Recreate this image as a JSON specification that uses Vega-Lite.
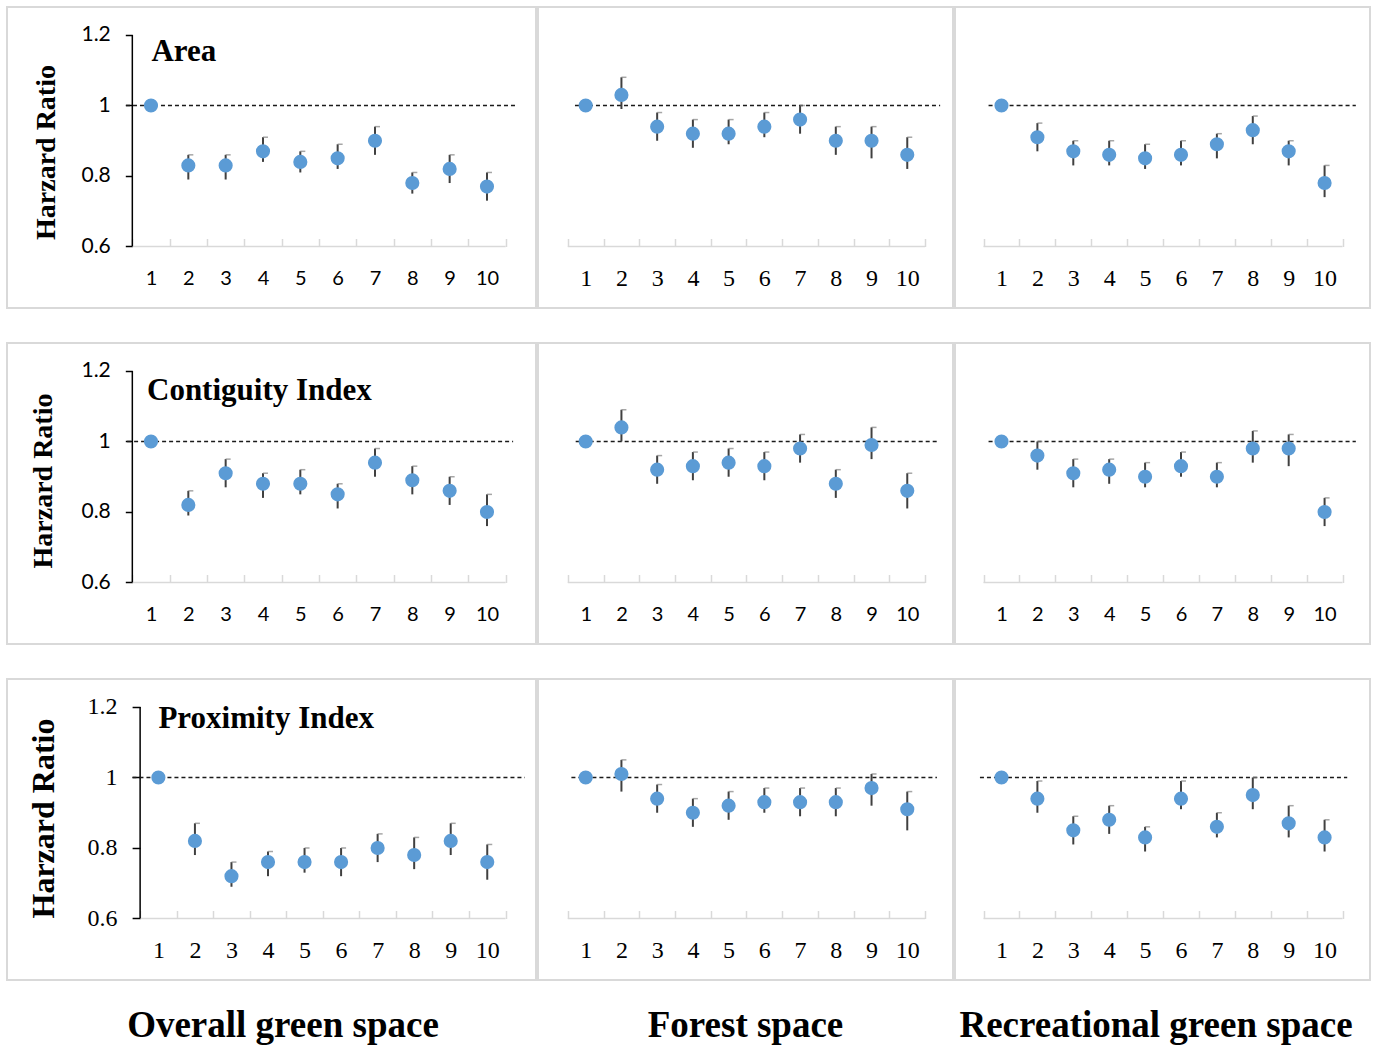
{
  "$schema": "https://vega.github.io/schema/vega-lite/v6.json",
  "background": "white",
  "padding": {"left": 6, "top": 6, "right": 0, "bottom": 0},
  "config": {
    "view": {"stroke": "#d9d9d9", "strokeWidth": 2},
    "axis": {"labelColor": "#000000", "domain": false, "grid": false}
  },
  "datasets": {
    "area_overall": [
      {"k":1,"hr":1,"lo":1,"hi":1},{"k":2,"hr":0.83,"lo":0.79,"hi":0.86},{"k":3,"hr":0.83,"lo":0.79,"hi":0.86},{"k":4,"hr":0.87,"lo":0.84,"hi":0.91},{"k":5,"hr":0.84,"lo":0.81,"hi":0.87},{"k":6,"hr":0.85,"lo":0.82,"hi":0.89},{"k":7,"hr":0.90,"lo":0.86,"hi":0.94},{"k":8,"hr":0.78,"lo":0.75,"hi":0.81},{"k":9,"hr":0.82,"lo":0.78,"hi":0.86},{"k":10,"hr":0.77,"lo":0.73,"hi":0.81}
    ],
    "area_forest": [
      {"k":1,"hr":1,"lo":1,"hi":1},{"k":2,"hr":1.03,"lo":0.99,"hi":1.08},{"k":3,"hr":0.94,"lo":0.90,"hi":0.98},{"k":4,"hr":0.92,"lo":0.88,"hi":0.96},{"k":5,"hr":0.92,"lo":0.89,"hi":0.96},{"k":6,"hr":0.94,"lo":0.91,"hi":0.98},{"k":7,"hr":0.96,"lo":0.92,"hi":1.00},{"k":8,"hr":0.90,"lo":0.86,"hi":0.94},{"k":9,"hr":0.90,"lo":0.85,"hi":0.94},{"k":10,"hr":0.86,"lo":0.82,"hi":0.91}
    ],
    "area_rec": [
      {"k":1,"hr":1,"lo":1,"hi":1},{"k":2,"hr":0.91,"lo":0.87,"hi":0.95},{"k":3,"hr":0.87,"lo":0.83,"hi":0.90},{"k":4,"hr":0.86,"lo":0.83,"hi":0.90},{"k":5,"hr":0.85,"lo":0.82,"hi":0.89},{"k":6,"hr":0.86,"lo":0.83,"hi":0.90},{"k":7,"hr":0.89,"lo":0.85,"hi":0.92},{"k":8,"hr":0.93,"lo":0.89,"hi":0.97},{"k":9,"hr":0.87,"lo":0.83,"hi":0.90},{"k":10,"hr":0.78,"lo":0.74,"hi":0.83}
    ],
    "cont_overall": [
      {"k":1,"hr":1,"lo":1,"hi":1},{"k":2,"hr":0.82,"lo":0.79,"hi":0.86},{"k":3,"hr":0.91,"lo":0.87,"hi":0.95},{"k":4,"hr":0.88,"lo":0.84,"hi":0.91},{"k":5,"hr":0.88,"lo":0.85,"hi":0.92},{"k":6,"hr":0.85,"lo":0.81,"hi":0.88},{"k":7,"hr":0.94,"lo":0.90,"hi":0.98},{"k":8,"hr":0.89,"lo":0.85,"hi":0.93},{"k":9,"hr":0.86,"lo":0.82,"hi":0.90},{"k":10,"hr":0.80,"lo":0.76,"hi":0.85}
    ],
    "cont_forest": [
      {"k":1,"hr":1,"lo":1,"hi":1},{"k":2,"hr":1.04,"lo":1.00,"hi":1.09},{"k":3,"hr":0.92,"lo":0.88,"hi":0.96},{"k":4,"hr":0.93,"lo":0.89,"hi":0.97},{"k":5,"hr":0.94,"lo":0.90,"hi":0.98},{"k":6,"hr":0.93,"lo":0.89,"hi":0.97},{"k":7,"hr":0.98,"lo":0.94,"hi":1.02},{"k":8,"hr":0.88,"lo":0.84,"hi":0.92},{"k":9,"hr":0.99,"lo":0.95,"hi":1.04},{"k":10,"hr":0.86,"lo":0.81,"hi":0.91}
    ],
    "cont_rec": [
      {"k":1,"hr":1,"lo":1,"hi":1},{"k":2,"hr":0.96,"lo":0.92,"hi":1.00},{"k":3,"hr":0.91,"lo":0.87,"hi":0.95},{"k":4,"hr":0.92,"lo":0.88,"hi":0.95},{"k":5,"hr":0.90,"lo":0.87,"hi":0.94},{"k":6,"hr":0.93,"lo":0.90,"hi":0.97},{"k":7,"hr":0.90,"lo":0.87,"hi":0.94},{"k":8,"hr":0.98,"lo":0.94,"hi":1.03},{"k":9,"hr":0.98,"lo":0.93,"hi":1.02},{"k":10,"hr":0.80,"lo":0.76,"hi":0.84}
    ],
    "prox_overall": [
      {"k":1,"hr":1,"lo":1,"hi":1},{"k":2,"hr":0.82,"lo":0.78,"hi":0.87},{"k":3,"hr":0.72,"lo":0.69,"hi":0.76},{"k":4,"hr":0.76,"lo":0.72,"hi":0.79},{"k":5,"hr":0.76,"lo":0.73,"hi":0.80},{"k":6,"hr":0.76,"lo":0.72,"hi":0.80},{"k":7,"hr":0.80,"lo":0.76,"hi":0.84},{"k":8,"hr":0.78,"lo":0.74,"hi":0.83},{"k":9,"hr":0.82,"lo":0.78,"hi":0.87},{"k":10,"hr":0.76,"lo":0.71,"hi":0.81}
    ],
    "prox_forest": [
      {"k":1,"hr":1,"lo":1,"hi":1},{"k":2,"hr":1.01,"lo":0.96,"hi":1.05},{"k":3,"hr":0.94,"lo":0.90,"hi":0.98},{"k":4,"hr":0.90,"lo":0.86,"hi":0.94},{"k":5,"hr":0.92,"lo":0.88,"hi":0.96},{"k":6,"hr":0.93,"lo":0.90,"hi":0.97},{"k":7,"hr":0.93,"lo":0.89,"hi":0.97},{"k":8,"hr":0.93,"lo":0.89,"hi":0.97},{"k":9,"hr":0.97,"lo":0.92,"hi":1.01},{"k":10,"hr":0.91,"lo":0.85,"hi":0.96}
    ],
    "prox_rec": [
      {"k":1,"hr":1,"lo":1,"hi":1},{"k":2,"hr":0.94,"lo":0.90,"hi":0.99},{"k":3,"hr":0.85,"lo":0.81,"hi":0.89},{"k":4,"hr":0.88,"lo":0.84,"hi":0.92},{"k":5,"hr":0.83,"lo":0.79,"hi":0.86},{"k":6,"hr":0.94,"lo":0.91,"hi":0.99},{"k":7,"hr":0.86,"lo":0.83,"hi":0.90},{"k":8,"hr":0.95,"lo":0.91,"hi":1.00},{"k":9,"hr":0.87,"lo":0.83,"hi":0.92},{"k":10,"hr":0.83,"lo":0.79,"hi":0.88}
    ]
  },
  "spacing": 33,
  "vconcat": [
    {
      "spacing": 0,
      "hconcat": [
        {
          "width": 529, "height": 301,
          "data": {"name": "area_overall"},
          "layer": [
            {"data": {"values": [{}]}, "mark": {"type": "rule", "color": "#d9d9d9", "strokeWidth": 1.5},
             "encoding": {"x": {"datum": 0.5}, "x2": {"datum": 10.5}, "y": {"datum": 0.6}}},
            {"data": {"values": [{}]}, "mark": {"type": "rule", "color": "#000000", "strokeWidth": 1.5},
             "encoding": {"x": {"datum": 0.5}, "y": {"datum": 0.6}, "y2": {"datum": 1.2}}},
            {"data": {"values": [{}]}, "mark": {"type": "rule", "color": "#1a1a1a", "strokeWidth": 1.3, "strokeDash": [4, 3]},
             "encoding": {"x": {"datum": 0.33}, "x2": {"datum": 10.75}, "y": {"datum": 1}}},
            {"mark": {"type": "rule", "color": "#404040", "strokeWidth": 2},
             "encoding": {"x": {"field": "k", "type": "quantitative"}, "y": {"field": "lo", "type": "quantitative"}, "y2": {"field": "hi"}}},
            {"mark": {"type": "tick", "orient": "horizontal", "color": "#808080", "size": 5, "thickness": 1.5, "xOffset": 2.5},
             "encoding": {"x": {"field": "k", "type": "quantitative"}, "y": {"field": "hi", "type": "quantitative"}}},
            {"mark": {"type": "circle", "color": "#5B9BD5", "size": 200, "opacity": 1},
             "encoding": {
               "x": {"field": "k", "type": "quantitative", "scale": {"domain": [-2.857, 11.313], "nice": false, "zero": false},
                     "axis": {"values": [1,2,3,4,5,6,7,8,9,10,11], "labelExpr": "datum.value > 10 ? '' : datum.label", "format": "d", "tickOffset": -18.67, "labelOffset": 18.67, "tickSize": -8, "tickColor": "#d9d9d9", "tickWidth": 1.5, "domain": false, "grid": false, "offset": -61.5, "labelFont": "Lato", "labelFontSize": 20, "labelColor": "#000000", "labelPadding": 46, "labelBaseline": "alphabetic", "labelAlign": "center", "labelOverlap": false, "labelFlush": false, "title": null}},
               "y": {"field": "hr", "type": "quantitative", "scale": {"domain": [0.4255, 1.2794], "nice": false, "zero": false},
                     "axis": {"values": [0.6, 0.8, 1, 1.2], "format": "~g", "domain": false, "grid": false, "offset": -125.3, "tickSize": 7, "tickColor": "#000000", "tickWidth": 1.5, "labelPadding": 15, "labelFont": "Lato", "labelFontSize": 21, "labelColor": "#000000", "labelOverlap": false, "labelFlush": false, "title": "Harzard Ratio", "titleFont": "Liberation Serif", "titleFontSize": 28, "titleFontWeight": "bold", "titleColor": "#000000", "titleAngle": -90, "titleBaseline": "alphabetic", "titleAlign": "center", "titleX": -78.3, "titleY": 145}}
             }},
            {"data": {"values": [{"t": "Area"}]}, "mark": {"type": "text", "font": "Liberation Serif", "fontSize": 31, "fontWeight": "bold", "align": "left", "baseline": "alphabetic", "color": "#000000"},
             "encoding": {"x": {"datum": 1.013}, "y": {"datum": 1.126}, "text": {"field": "t"}}}
          ]
        },
        {
          "width": 415, "height": 301,
          "data": {"name": "area_forest"},
          "layer": [
            {"data": {"values": [{}]}, "mark": {"type": "rule", "color": "#d9d9d9", "strokeWidth": 1.5},
             "encoding": {"x": {"datum": 0.5}, "x2": {"datum": 10.5}, "y": {"datum": 0.6, "axis": null}}},
            {"data": {"values": [{}]}, "mark": {"type": "rule", "color": "#1a1a1a", "strokeWidth": 1.3, "strokeDash": [4, 3]},
             "encoding": {"x": {"datum": 0.70}, "x2": {"datum": 10.92}, "y": {"datum": 1, "axis": null}}},
            {"mark": {"type": "rule", "color": "#404040", "strokeWidth": 2},
             "encoding": {"x": {"field": "k", "type": "quantitative"}, "y": {"field": "lo", "type": "quantitative", "axis": null}, "y2": {"field": "hi"}}},
            {"mark": {"type": "tick", "orient": "horizontal", "color": "#808080", "size": 5, "thickness": 1.5, "xOffset": 2.5},
             "encoding": {"x": {"field": "k", "type": "quantitative"}, "y": {"field": "hi", "type": "quantitative", "axis": null}}},
            {"mark": {"type": "circle", "color": "#5B9BD5", "size": 200, "opacity": 1},
             "encoding": {
               "x": {"field": "k", "type": "quantitative", "scale": {"domain": [-0.335, 11.28], "nice": false, "zero": false},
                     "axis": {"values": [1,2,3,4,5,6,7,8,9,10,11], "labelExpr": "datum.value > 10 ? '' : datum.label", "format": "d", "tickOffset": -17.87, "labelOffset": 17.87, "tickSize": -8, "tickColor": "#d9d9d9", "tickWidth": 1.5, "domain": false, "grid": false, "offset": -61.5, "labelFont": "Liberation Serif", "labelFontSize": 24, "labelColor": "#000000", "labelPadding": 47, "labelBaseline": "alphabetic", "labelAlign": "center", "labelOverlap": false, "labelFlush": false, "title": null}},
               "y": {"field": "hr", "type": "quantitative", "scale": {"domain": [0.4255, 1.2794], "nice": false, "zero": false}, "axis": null}
             }}
          ]
        },
        {
          "width": 415, "height": 301,
          "data": {"name": "area_rec"},
          "layer": [
            {"data": {"values": [{}]}, "mark": {"type": "rule", "color": "#d9d9d9", "strokeWidth": 1.5},
             "encoding": {"x": {"datum": 0.5}, "x2": {"datum": 10.5}, "y": {"datum": 0.6, "axis": null}}},
            {"data": {"values": [{}]}, "mark": {"type": "rule", "color": "#1a1a1a", "strokeWidth": 1.3, "strokeDash": [4, 3]},
             "encoding": {"x": {"datum": 0.64}, "x2": {"datum": 10.87}, "y": {"datum": 1, "axis": null}}},
            {"mark": {"type": "rule", "color": "#404040", "strokeWidth": 2},
             "encoding": {"x": {"field": "k", "type": "quantitative"}, "y": {"field": "lo", "type": "quantitative", "axis": null}, "y2": {"field": "hi"}}},
            {"mark": {"type": "tick", "orient": "horizontal", "color": "#808080", "size": 5, "thickness": 1.5, "xOffset": 2.5},
             "encoding": {"x": {"field": "k", "type": "quantitative"}, "y": {"field": "hi", "type": "quantitative", "axis": null}}},
            {"mark": {"type": "circle", "color": "#5B9BD5", "size": 200, "opacity": 1},
             "encoding": {
               "x": {"field": "k", "type": "quantitative", "scale": {"domain": [-0.295, 11.265], "nice": false, "zero": false},
                     "axis": {"values": [1,2,3,4,5,6,7,8,9,10,11], "labelExpr": "datum.value > 10 ? '' : datum.label", "format": "d", "tickOffset": -17.95, "labelOffset": 17.95, "tickSize": -8, "tickColor": "#d9d9d9", "tickWidth": 1.5, "domain": false, "grid": false, "offset": -61.5, "labelFont": "Liberation Serif", "labelFontSize": 24, "labelColor": "#000000", "labelPadding": 47, "labelBaseline": "alphabetic", "labelAlign": "center", "labelOverlap": false, "labelFlush": false, "title": null}},
               "y": {"field": "hr", "type": "quantitative", "scale": {"domain": [0.4255, 1.2794], "nice": false, "zero": false}, "axis": null}
             }}
          ]
        }
      ]
    },
    {
      "spacing": 0,
      "hconcat": [
        {
          "width": 529, "height": 301,
          "data": {"name": "cont_overall"},
          "layer": [
            {"data": {"values": [{}]}, "mark": {"type": "rule", "color": "#d9d9d9", "strokeWidth": 1.5},
             "encoding": {"x": {"datum": 0.5}, "x2": {"datum": 10.5}, "y": {"datum": 0.6}}},
            {"data": {"values": [{}]}, "mark": {"type": "rule", "color": "#000000", "strokeWidth": 1.5},
             "encoding": {"x": {"datum": 0.5}, "y": {"datum": 0.6}, "y2": {"datum": 1.2}}},
            {"data": {"values": [{}]}, "mark": {"type": "rule", "color": "#1a1a1a", "strokeWidth": 1.3, "strokeDash": [4, 3]},
             "encoding": {"x": {"datum": 0.36}, "x2": {"datum": 10.7}, "y": {"datum": 1}}},
            {"mark": {"type": "rule", "color": "#404040", "strokeWidth": 2},
             "encoding": {"x": {"field": "k", "type": "quantitative"}, "y": {"field": "lo", "type": "quantitative"}, "y2": {"field": "hi"}}},
            {"mark": {"type": "tick", "orient": "horizontal", "color": "#808080", "size": 5, "thickness": 1.5, "xOffset": 2.5},
             "encoding": {"x": {"field": "k", "type": "quantitative"}, "y": {"field": "hi", "type": "quantitative"}}},
            {"mark": {"type": "circle", "color": "#5B9BD5", "size": 200, "opacity": 1},
             "encoding": {
               "x": {"field": "k", "type": "quantitative", "scale": {"domain": [-2.857, 11.313], "nice": false, "zero": false},
                     "axis": {"values": [1,2,3,4,5,6,7,8,9,10,11], "labelExpr": "datum.value > 10 ? '' : datum.label", "format": "d", "tickOffset": -18.67, "labelOffset": 18.67, "tickSize": -8, "tickColor": "#d9d9d9", "tickWidth": 1.5, "domain": false, "grid": false, "offset": -61.5, "labelFont": "Lato", "labelFontSize": 20, "labelColor": "#000000", "labelPadding": 46, "labelBaseline": "alphabetic", "labelAlign": "center", "labelOverlap": false, "labelFlush": false, "title": null}},
               "y": {"field": "hr", "type": "quantitative", "scale": {"domain": [0.4255, 1.2794], "nice": false, "zero": false},
                     "axis": {"values": [0.6, 0.8, 1, 1.2], "format": "~g", "domain": false, "grid": false, "offset": -125.3, "tickSize": 7, "tickColor": "#000000", "tickWidth": 1.5, "labelPadding": 15, "labelFont": "Lato", "labelFontSize": 21, "labelColor": "#000000", "labelOverlap": false, "labelFlush": false, "title": "Harzard Ratio", "titleFont": "Liberation Serif", "titleFontSize": 28, "titleFontWeight": "bold", "titleColor": "#000000", "titleAngle": -90, "titleBaseline": "alphabetic", "titleAlign": "center", "titleX": -80.6, "titleY": 137.5}}
             }},
            {"data": {"values": [{"t": "Contiguity Index"}]}, "mark": {"type": "text", "font": "Liberation Serif", "fontSize": 31, "fontWeight": "bold", "align": "left", "baseline": "alphabetic", "color": "#000000"},
             "encoding": {"x": {"datum": 0.893}, "y": {"datum": 1.118}, "text": {"field": "t"}}}
          ]
        },
        {
          "width": 415, "height": 301,
          "data": {"name": "cont_forest"},
          "layer": [
            {"data": {"values": [{}]}, "mark": {"type": "rule", "color": "#d9d9d9", "strokeWidth": 1.5},
             "encoding": {"x": {"datum": 0.5}, "x2": {"datum": 10.5}, "y": {"datum": 0.6, "axis": null}}},
            {"data": {"values": [{}]}, "mark": {"type": "rule", "color": "#1a1a1a", "strokeWidth": 1.3, "strokeDash": [4, 3]},
             "encoding": {"x": {"datum": 0.72}, "x2": {"datum": 10.9}, "y": {"datum": 1, "axis": null}}},
            {"mark": {"type": "rule", "color": "#404040", "strokeWidth": 2},
             "encoding": {"x": {"field": "k", "type": "quantitative"}, "y": {"field": "lo", "type": "quantitative", "axis": null}, "y2": {"field": "hi"}}},
            {"mark": {"type": "tick", "orient": "horizontal", "color": "#808080", "size": 5, "thickness": 1.5, "xOffset": 2.5},
             "encoding": {"x": {"field": "k", "type": "quantitative"}, "y": {"field": "hi", "type": "quantitative", "axis": null}}},
            {"mark": {"type": "circle", "color": "#5B9BD5", "size": 200, "opacity": 1},
             "encoding": {
               "x": {"field": "k", "type": "quantitative", "scale": {"domain": [-0.335, 11.28], "nice": false, "zero": false},
                     "axis": {"values": [1,2,3,4,5,6,7,8,9,10,11], "labelExpr": "datum.value > 10 ? '' : datum.label", "format": "d", "tickOffset": -17.87, "labelOffset": 17.87, "tickSize": -8, "tickColor": "#d9d9d9", "tickWidth": 1.5, "domain": false, "grid": false, "offset": -61.5, "labelFont": "Lato", "labelFontSize": 20, "labelColor": "#000000", "labelPadding": 46, "labelBaseline": "alphabetic", "labelAlign": "center", "labelOverlap": false, "labelFlush": false, "title": null}},
               "y": {"field": "hr", "type": "quantitative", "scale": {"domain": [0.4255, 1.2794], "nice": false, "zero": false}, "axis": null}
             }}
          ]
        },
        {
          "width": 415, "height": 301,
          "data": {"name": "cont_rec"},
          "layer": [
            {"data": {"values": [{}]}, "mark": {"type": "rule", "color": "#d9d9d9", "strokeWidth": 1.5},
             "encoding": {"x": {"datum": 0.5}, "x2": {"datum": 10.5}, "y": {"datum": 0.6, "axis": null}}},
            {"data": {"values": [{}]}, "mark": {"type": "rule", "color": "#1a1a1a", "strokeWidth": 1.3, "strokeDash": [4, 3]},
             "encoding": {"x": {"datum": 0.64}, "x2": {"datum": 10.87}, "y": {"datum": 1, "axis": null}}},
            {"mark": {"type": "rule", "color": "#404040", "strokeWidth": 2},
             "encoding": {"x": {"field": "k", "type": "quantitative"}, "y": {"field": "lo", "type": "quantitative", "axis": null}, "y2": {"field": "hi"}}},
            {"mark": {"type": "tick", "orient": "horizontal", "color": "#808080", "size": 5, "thickness": 1.5, "xOffset": 2.5},
             "encoding": {"x": {"field": "k", "type": "quantitative"}, "y": {"field": "hi", "type": "quantitative", "axis": null}}},
            {"mark": {"type": "circle", "color": "#5B9BD5", "size": 200, "opacity": 1},
             "encoding": {
               "x": {"field": "k", "type": "quantitative", "scale": {"domain": [-0.295, 11.265], "nice": false, "zero": false},
                     "axis": {"values": [1,2,3,4,5,6,7,8,9,10,11], "labelExpr": "datum.value > 10 ? '' : datum.label", "format": "d", "tickOffset": -17.95, "labelOffset": 17.95, "tickSize": -8, "tickColor": "#d9d9d9", "tickWidth": 1.5, "domain": false, "grid": false, "offset": -61.5, "labelFont": "Lato", "labelFontSize": 20, "labelColor": "#000000", "labelPadding": 46, "labelBaseline": "alphabetic", "labelAlign": "center", "labelOverlap": false, "labelFlush": false, "title": null}},
               "y": {"field": "hr", "type": "quantitative", "scale": {"domain": [0.4255, 1.2794], "nice": false, "zero": false}, "axis": null}
             }}
          ]
        }
      ]
    },
    {
      "spacing": 0,
      "hconcat": [
        {
          "width": 529, "height": 301,
          "data": {"name": "prox_overall"},
          "title": {"text": "Overall green space", "orient": "bottom", "anchor": "middle", "font": "Liberation Serif", "fontSize": 37, "fontWeight": "bold", "color": "#000000", "dx": 11.5, "offset": 28, "baseline": "top"},
          "layer": [
            {"data": {"values": [{}]}, "mark": {"type": "rule", "color": "#d9d9d9", "strokeWidth": 1.5},
             "encoding": {"x": {"datum": 0.5}, "x2": {"datum": 10.5}, "y": {"datum": 0.6}}},
            {"data": {"values": [{}]}, "mark": {"type": "rule", "color": "#000000", "strokeWidth": 1.5},
             "encoding": {"x": {"datum": 0.5}, "y": {"datum": 0.6}, "y2": {"datum": 1.2}}},
            {"data": {"values": [{}]}, "mark": {"type": "rule", "color": "#1a1a1a", "strokeWidth": 1.3, "strokeDash": [4, 3]},
             "encoding": {"x": {"datum": 0.29}, "x2": {"datum": 11.03}, "y": {"datum": 1}}},
            {"mark": {"type": "rule", "color": "#404040", "strokeWidth": 2},
             "encoding": {"x": {"field": "k", "type": "quantitative"}, "y": {"field": "lo", "type": "quantitative"}, "y2": {"field": "hi"}}},
            {"mark": {"type": "tick", "orient": "horizontal", "color": "#808080", "size": 5, "thickness": 1.5, "xOffset": 2.5},
             "encoding": {"x": {"field": "k", "type": "quantitative"}, "y": {"field": "hi", "type": "quantitative"}}},
            {"mark": {"type": "circle", "color": "#5B9BD5", "size": 200, "opacity": 1},
             "encoding": {
               "x": {"field": "k", "type": "quantitative", "scale": {"domain": [-3.143, 11.334], "nice": false, "zero": false},
                     "axis": {"values": [1,2,3,4,5,6,7,8,9,10,11], "labelExpr": "datum.value > 10 ? '' : datum.label", "format": "d", "tickOffset": -18.27, "labelOffset": 18.27, "tickSize": -8, "tickColor": "#d9d9d9", "tickWidth": 1.5, "domain": false, "grid": false, "offset": -61.5, "labelFont": "Liberation Serif", "labelFontSize": 24, "labelColor": "#000000", "labelPadding": 47, "labelBaseline": "alphabetic", "labelAlign": "center", "labelOverlap": false, "labelFlush": false, "title": null}},
               "y": {"field": "hr", "type": "quantitative", "scale": {"domain": [0.4255, 1.2794], "nice": false, "zero": false},
                     "axis": {"values": [0.6, 0.8, 1, 1.2], "format": "~g", "domain": false, "grid": false, "offset": -133.1, "tickSize": 8, "tickColor": "#000000", "tickWidth": 1.5, "labelPadding": 15, "labelFont": "Liberation Serif", "labelFontSize": 24, "labelColor": "#000000", "labelOverlap": false, "labelFlush": false, "title": "Harzard Ratio", "titleFont": "Liberation Serif", "titleFontSize": 32, "titleFontWeight": "bold", "titleColor": "#000000", "titleAngle": -90, "titleBaseline": "alphabetic", "titleAlign": "center", "titleX": -86.7, "titleY": 139}}
             }},
            {"data": {"values": [{"t": "Proximity Index"}]}, "mark": {"type": "text", "font": "Liberation Serif", "fontSize": 31, "fontWeight": "bold", "align": "left", "baseline": "alphabetic", "color": "#000000"},
             "encoding": {"x": {"datum": 1.0}, "y": {"datum": 1.1395}, "text": {"field": "t"}}}
          ]
        },
        {
          "width": 415, "height": 301,
          "data": {"name": "prox_forest"},
          "title": {"text": "Forest space", "orient": "bottom", "anchor": "middle", "font": "Liberation Serif", "fontSize": 37, "fontWeight": "bold", "color": "#000000", "dx": 0, "offset": 28, "baseline": "top"},
          "layer": [
            {"data": {"values": [{}]}, "mark": {"type": "rule", "color": "#d9d9d9", "strokeWidth": 1.5},
             "encoding": {"x": {"datum": 0.5}, "x2": {"datum": 10.5}, "y": {"datum": 0.6, "axis": null}}},
            {"data": {"values": [{}]}, "mark": {"type": "rule", "color": "#1a1a1a", "strokeWidth": 1.3, "strokeDash": [4, 3]},
             "encoding": {"x": {"datum": 0.60}, "x2": {"datum": 10.83}, "y": {"datum": 1, "axis": null}}},
            {"mark": {"type": "rule", "color": "#404040", "strokeWidth": 2},
             "encoding": {"x": {"field": "k", "type": "quantitative"}, "y": {"field": "lo", "type": "quantitative", "axis": null}, "y2": {"field": "hi"}}},
            {"mark": {"type": "tick", "orient": "horizontal", "color": "#808080", "size": 5, "thickness": 1.5, "xOffset": 2.5},
             "encoding": {"x": {"field": "k", "type": "quantitative"}, "y": {"field": "hi", "type": "quantitative", "axis": null}}},
            {"mark": {"type": "circle", "color": "#5B9BD5", "size": 200, "opacity": 1},
             "encoding": {
               "x": {"field": "k", "type": "quantitative", "scale": {"domain": [-0.335, 11.28], "nice": false, "zero": false},
                     "axis": {"values": [1,2,3,4,5,6,7,8,9,10,11], "labelExpr": "datum.value > 10 ? '' : datum.label", "format": "d", "tickOffset": -17.87, "labelOffset": 17.87, "tickSize": -8, "tickColor": "#d9d9d9", "tickWidth": 1.5, "domain": false, "grid": false, "offset": -61.5, "labelFont": "Liberation Serif", "labelFontSize": 24, "labelColor": "#000000", "labelPadding": 47, "labelBaseline": "alphabetic", "labelAlign": "center", "labelOverlap": false, "labelFlush": false, "title": null}},
               "y": {"field": "hr", "type": "quantitative", "scale": {"domain": [0.4255, 1.2794], "nice": false, "zero": false}, "axis": null}
             }}
          ]
        },
        {
          "width": 415, "height": 301,
          "data": {"name": "prox_rec"},
          "title": {"text": "Recreational green space", "orient": "bottom", "anchor": "middle", "font": "Liberation Serif", "fontSize": 37, "fontWeight": "bold", "color": "#000000", "dx": -6.5, "offset": 28, "baseline": "top"},
          "layer": [
            {"data": {"values": [{}]}, "mark": {"type": "rule", "color": "#d9d9d9", "strokeWidth": 1.5},
             "encoding": {"x": {"datum": 0.5}, "x2": {"datum": 10.5}, "y": {"datum": 0.6, "axis": null}}},
            {"data": {"values": [{}]}, "mark": {"type": "rule", "color": "#1a1a1a", "strokeWidth": 1.3, "strokeDash": [4, 3]},
             "encoding": {"x": {"datum": 0.40}, "x2": {"datum": 10.63}, "y": {"datum": 1, "axis": null}}},
            {"mark": {"type": "rule", "color": "#404040", "strokeWidth": 2},
             "encoding": {"x": {"field": "k", "type": "quantitative"}, "y": {"field": "lo", "type": "quantitative", "axis": null}, "y2": {"field": "hi"}}},
            {"mark": {"type": "tick", "orient": "horizontal", "color": "#808080", "size": 5, "thickness": 1.5, "xOffset": 2.5},
             "encoding": {"x": {"field": "k", "type": "quantitative"}, "y": {"field": "hi", "type": "quantitative", "axis": null}}},
            {"mark": {"type": "circle", "color": "#5B9BD5", "size": 200, "opacity": 1},
             "encoding": {
               "x": {"field": "k", "type": "quantitative", "scale": {"domain": [-0.295, 11.265], "nice": false, "zero": false},
                     "axis": {"values": [1,2,3,4,5,6,7,8,9,10,11], "labelExpr": "datum.value > 10 ? '' : datum.label", "format": "d", "tickOffset": -17.95, "labelOffset": 17.95, "tickSize": -8, "tickColor": "#d9d9d9", "tickWidth": 1.5, "domain": false, "grid": false, "offset": -61.5, "labelFont": "Liberation Serif", "labelFontSize": 24, "labelColor": "#000000", "labelPadding": 47, "labelBaseline": "alphabetic", "labelAlign": "center", "labelOverlap": false, "labelFlush": false, "title": null}},
               "y": {"field": "hr", "type": "quantitative", "scale": {"domain": [0.4255, 1.2794], "nice": false, "zero": false}, "axis": null}
             }}
          ]
        }
      ]
    }
  ]
}
